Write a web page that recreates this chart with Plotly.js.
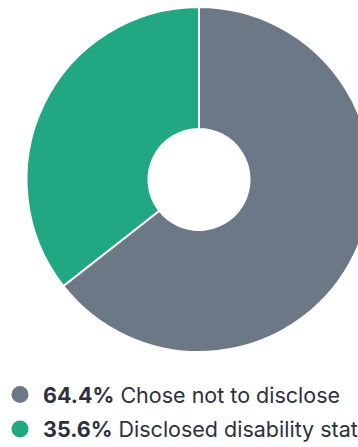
<!DOCTYPE html>
<html>
<head>
<meta charset="utf-8">
<script src="https://cdn.plot.ly/plotly-3.0.1.min.js"></script>
<style>
html,body{margin:0;padding:0;overflow:hidden;background:#fff;width:358px;height:447px;}
#chart{width:420px;height:447px;}
</style>
</head>
<body>
<div id="chart"></div>
<script>
const labels = ["Chose not to disclose", "Disclosed disability status"];
const values = [64.4, 35.6];
const colors = ["#6c7886", "#21a883"];

const W = 420, H = 447;
const cx = 199, cy = 179.5, R = 172.5;

const pie = {
  type: "pie",
  labels: labels,
  values: values,
  sort: false,
  direction: "clockwise",
  rotation: 0,
  hole: 0.293,
  textinfo: "none",
  hoverinfo: "none",
  showlegend: false,
  marker: {colors: colors, line: {color: "#ffffff", width: 2}},
  domain: {x: [(cx - R) / W, (cx + R) / W], y: [1 - (cy + R) / H, 1 - (cy - R) / H]}
};

const rowY = [394.5, 429];
const shapes = [];
const annotations = [];
labels.forEach((lab, i) => {
  const r = 8.5;
  shapes.push({
    type: "circle", xref: "paper", yref: "paper",
    x0: (20 - r) / W, x1: (20 + r) / W,
    y0: 1 - (rowY[i] + r) / H, y1: 1 - (rowY[i] - r) / H,
    fillcolor: colors[i], line: {width: 0}
  });
  annotations.push({
    xref: "paper", yref: "paper", x: 41 / W, y: 1 - rowY[i] / H,
    xanchor: "left", yanchor: "middle", showarrow: false,
    text: "<b>" + values[i].toFixed(1) + "%</b> " + lab,
    font: {family: "Inter, sans-serif", size: 21.5, color: "#2e303d"}
  });
});

Plotly.newPlot("chart", [pie], {
  width: W, height: H,
  margin: {l: 0, r: 0, t: 0, b: 0},
  paper_bgcolor: "#ffffff",
  plot_bgcolor: "#ffffff",
  shapes: shapes,
  annotations: annotations
}, {displayModeBar: false, staticPlot: true});
</script>
</body>
</html>
